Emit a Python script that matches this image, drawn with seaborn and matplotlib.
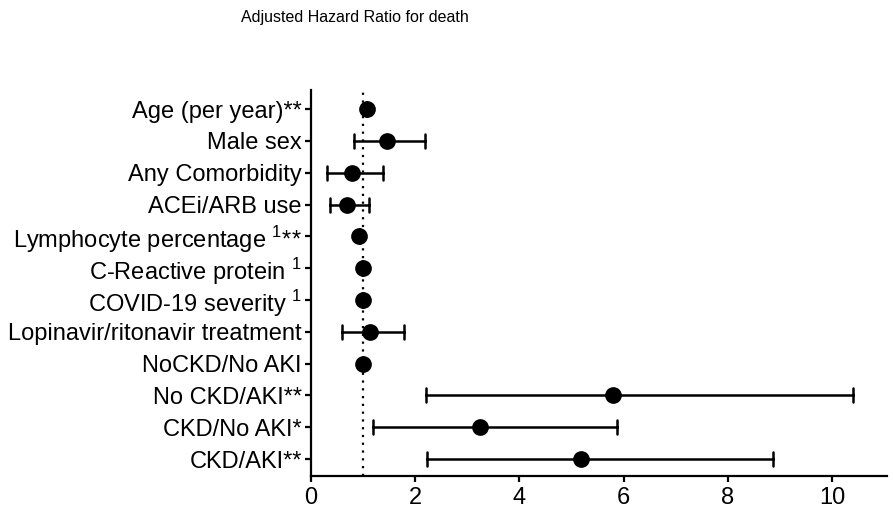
import matplotlib
matplotlib.use("Agg")
import matplotlib.pyplot as plt
import seaborn as sns
import pandas as pd

# hazard ratios with 95% CI
labels = [
    "Age (per year)**",
    "Male sex",
    "Any Comorbidity",
    "ACEi/ARB use",
    "Lymphocyte percentage $^{1}$**",
    "C-Reactive protein $^{1}$",
    "COVID-19 severity $^{1}$",
    "Lopinavir/ritonavir treatment",
    "NoCKD/No AKI",
    "No CKD/AKI**",
    "CKD/No AKI*",
    "CKD/AKI**",
]
hr = [1.07, 1.46, 0.79, 0.70, 0.93, 1.00, 1.00, 1.14, 1.00, 5.80, 3.24, 5.18]
ci_low = [1.06, 0.82, 0.32, 0.36, 0.92, 0.99, 0.99, 0.59, 1.00, 2.22, 1.19, 2.23]
ci_high = [1.08, 2.19, 1.38, 1.11, 0.94, 1.01, 1.01, 1.79, 1.00, 10.40, 5.88, 8.87]

# long form: median of (low, hr, high) is the estimate, min/max are the CI
rows = []
for lab, lo, est, hi in zip(labels, ci_low, hr, ci_high):
    for v in (lo, est, hi):
        rows.append({"label": lab, "value": v})
df = pd.DataFrame(rows)

sns.set_style("ticks")
plt.rcParams["font.family"] = ["Liberation Sans", "DejaVu Sans"]
plt.rcParams["mathtext.fontset"] = "custom"
plt.rcParams["mathtext.rm"] = "Liberation Sans"
plt.rcParams["text.color"] = "black"
plt.rcParams["xtick.color"] = "black"
plt.rcParams["ytick.color"] = "black"

fig = plt.figure(figsize=(8.93, 5.17), dpi=100)
ax = fig.add_axes([0.348, 0.080, 0.645, 0.746])

ax.axvline(1, color="black", linestyle=(0, (1, 2.5)), linewidth=1.6, zorder=0)

sns.pointplot(
    df,
    x="value",
    y="label",
    order=labels,
    estimator="median",
    errorbar=("pi", 100),
    linestyle="none",
    marker="o",
    markersize=10,
    color="black",
    capsize=0.44,
    err_kws={"linewidth": 1.8},
    ax=ax,
)

ax.set_xlim(0, 11.05)
ax.set_ylim(11.52, -0.6)
ax.set_xticks([0, 2, 4, 6, 8, 10])
ax.set_xlabel("")
ax.set_ylabel("")
ax.tick_params(axis="both", labelsize=17, width=1.6, length=4.5, color="black", labelcolor="black")
ax.tick_params(axis="y", pad=2)
ax.tick_params(axis="x", pad=4)
for side in ("top", "right"):
    ax.spines[side].set_visible(False)
for side in ("left", "bottom"):
    ax.spines[side].set_linewidth(1.6)
    ax.spines[side].set_color("black")

fig.text(0.3975, 0.967, "Adjusted Hazard Ratio for death", ha="center", va="center",
         fontsize=11.5, color="black")

fig.savefig("out.png", dpi=100)
